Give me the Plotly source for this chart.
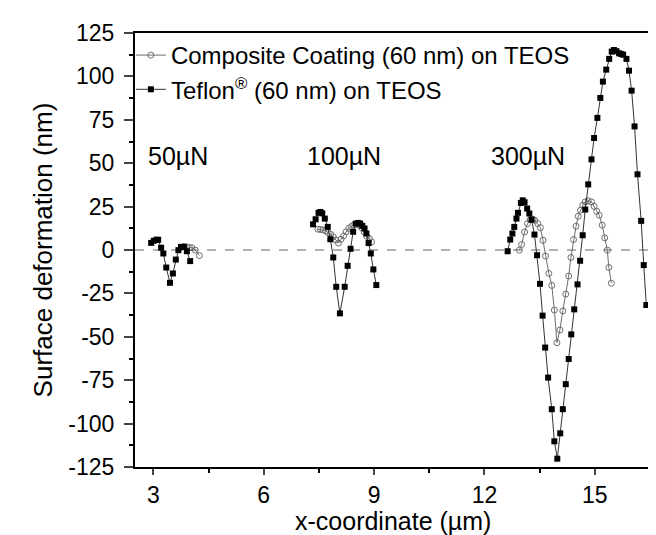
import plotly.graph_objects as go

# ---- data ----
# Teflon (60 nm) on TEOS
tef_50_x = [2.94, 3.01, 3.08, 3.13, 3.21, 3.27, 3.35, 3.45, 3.53, 3.61, 3.68, 3.75, 3.83, 3.91, 4.00]
tef_50_y = [4.1, 5.3, 5.9, 5.9, 1.3, -2.0, -10.1, -18.9, -13.5, -5.5, -0.1, 1.8, 1.8, -0.7, -6.4]
tef_100_x = [7.34, 7.41, 7.49, 7.54, 7.59, 7.66, 7.74, 7.81, 7.89, 7.97, 8.07, 8.20, 8.28, 8.36,
             8.43, 8.50, 8.57, 8.62, 8.68, 8.74, 8.79, 8.85, 8.91, 8.98, 9.06]
tef_100_y = [14.8, 17.7, 21.4, 21.9, 21.1, 18.1, 13.3, 6.2, -4.3, -21.2, -36.5, -21.2, -9.1, 0.7,
             10.5, 15.2, 15.6, 15.2, 13.9, 12.4, 9.5, 4.0, -2.0, -11.2, -20.2]
tef_300_x = [12.63, 12.70, 12.76, 12.81, 12.87, 12.91, 12.99, 13.04, 13.09, 13.16, 13.22, 13.28, 13.36,
             13.43, 13.51, 13.58, 13.65, 13.73, 13.83, 13.90, 13.98, 14.06, 14.13, 14.21, 14.29,
             14.36, 14.44, 14.53, 14.60, 14.67, 14.74, 14.82, 14.91, 14.98, 15.07, 15.15, 15.22,
             15.31, 15.39, 15.46, 15.52, 15.59, 15.66, 15.72, 15.77, 15.86, 15.93, 16.00, 16.08,
             16.16, 16.26, 16.33, 16.40]
tef_300_y = [-0.7, 6.0, 9.5, 13.3, 18.1, 21.4, 27.1, 28.6, 27.5, 23.9, 21.0, 17.5, 8.9,
             -3.0, -19.5, -37.8, -56.2, -73.5, -91.7, -110.2, -120.2, -105.6, -91.7, -77.3, -62.8,
             -48.6, -34.2, -19.8, -6.2, 8.5, 23.3, 37.8, 52.2, 64.5, 76.1, 87.6, 97.0,
             103.9, 110.1, 114.3, 115.2, 114.5, 113.3, 112.9, 112.5, 110.1, 103.3, 91.8, 71.2,
             43.6, 16.8, -8.7, -31.7]

# Composite Coating (60 nm) on TEOS
com_50_x = [3.76, 3.83, 3.91, 3.98, 4.05, 4.14, 4.25]
com_50_y = [1.5, 2.0, 1.8, 1.4, 1.3, -0.1, -3.2]
com_100_x = [7.47, 7.54, 7.61, 7.68, 7.75, 7.82, 7.89, 7.96, 8.03, 8.10, 8.17, 8.24, 8.31,
             8.38, 8.45, 8.52, 8.59, 8.66, 8.73, 8.80, 8.87, 8.93]
com_100_y = [12.0, 11.8, 11.6, 11.0, 10.0, 9.0, 7.6, 5.8, 4.0, 6.2, 8.1, 10.5, 12.4,
             13.5, 14.5, 14.8, 14.3, 12.8, 10.4, 7.9, 6.6, 4.7]
com_300_x = [12.95, 13.01, 13.09, 13.17, 13.24, 13.32, 13.37, 13.45, 13.52, 13.59, 13.66, 13.75,
             13.83, 13.90, 13.97, 14.05, 14.13, 14.21, 14.29, 14.35, 14.42, 14.49, 14.55, 14.61,
             14.67, 14.74, 14.82, 14.91, 14.98, 15.05, 15.12, 15.20, 15.27, 15.34, 15.38, 15.45]
com_300_y = [-0.1, 3.2, 10.4, 15.2, 17.3, 17.7, 17.1, 15.2, 12.9, 5.6, -3.5, -13.5,
             -20.4, -34.6, -53.4, -46.1, -35.1, -25.4, -15.0, -4.3, 6.0, 13.7, 19.4, 22.9,
             25.8, 27.7, 28.3, 27.7, 25.2, 22.3, 20.0, 14.3, 7.0, -0.1, -10.1, -19.1]

load_labels = ["50µN", "100µN", "300µN"]
load_label_x = [3.68, 8.18, 13.19]
load_label_y = [54, 54, 54]

x_ticks = [3, 6, 9, 12, 15]
x_tick_text = ["3", "6", "9", "12", "15"]
y_ticks = [125, 100, 75, 50, 25, 0, -25, -50, -75, -100, -125]
y_tick_text = ["125", "100", "75", "50", "25", "0", "-25", "-50", "-75", "-100", "-125"]


def join(*parts):
    out = []
    for i, p in enumerate(parts):
        if i:
            out.append(None)
        out.extend(p)
    return out


FONT = "Liberation Sans, Arial, sans-serif"

fig = go.Figure()
fig.add_hline(y=0, line=dict(color="#666666", width=1, dash="dash"), layer="below")

fig.add_trace(go.Scatter(
    x=join(com_50_x, com_100_x, com_300_x),
    y=join(com_50_y, com_100_y, com_300_y),
    mode="lines+markers",
    name="Composite Coating (60 nm) on TEOS",
    line=dict(color="#6e6e6e", width=1),
    marker=dict(symbol="circle-open", size=6, color="#6e6e6e", line=dict(width=1)),
    connectgaps=False,
))
fig.add_trace(go.Scatter(
    x=join(tef_50_x, tef_100_x, tef_300_x),
    y=join(tef_50_y, tef_100_y, tef_300_y),
    mode="lines+markers",
    name="Teflon<sup>®</sup> (60 nm) on TEOS",
    line=dict(color="#333333", width=1),
    marker=dict(symbol="square", size=6, color="black"),
    connectgaps=False,
))

for t, xx, yy in zip(load_labels, load_label_x, load_label_y):
    fig.add_annotation(x=xx, y=yy, xref="x", yref="y", text=t, showarrow=False,
                       font=dict(family=FONT, size=25, color="black"))

# x-axis title placed as a paper annotation for precise vertical position
fig.add_annotation(x=0.5, y=-0.125, xref="paper", yref="paper", text="x-coordinate (µm)",
                   showarrow=False, xanchor="center", yanchor="middle",
                   font=dict(family=FONT, size=25, color="black"))

fig.update_layout(
    width=656, height=535,
    margin=dict(l=127, r=12, t=24, b=76),
    paper_bgcolor="white", plot_bgcolor="white",
    font=dict(family=FONT, size=23, color="black"),
    showlegend=True,
    legend=dict(x=-0.008, y=1.0, xanchor="left", yanchor="top", bgcolor="rgba(0,0,0,0)",
                font=dict(family=FONT, size=24, color="black"), tracegroupgap=0,
                itemwidth=30),
)
fig.update_xaxes(
    range=[2.5, 16.5], tickvals=x_ticks, ticktext=x_tick_text, ticks="outside", ticklen=6,
    tickwidth=1.5, showline=True, linecolor="black", linewidth=2, mirror=True,
    showgrid=False, zeroline=False,
    minor=dict(dtick=1.5, tick0=1.5, ticks="outside", ticklen=4, tickcolor="black"),
    tickfont=dict(family=FONT, size=23),
)
fig.update_yaxes(
    range=[-125, 125], tickvals=y_ticks, ticktext=y_tick_text, ticks="outside", ticklen=9,
    tickwidth=1.5, showline=True, linecolor="black", linewidth=2, mirror=True,
    showgrid=False, zeroline=False, ticklabelstandoff=5,
    minor=dict(dtick=12.5, tick0=0, ticks="outside", ticklen=4, tickcolor="black"),
    title=dict(text="Surface deformation (nm)", font=dict(family=FONT, size=26), standoff=8),
    tickfont=dict(family=FONT, size=23),
)

fig.write_html("out.html")
